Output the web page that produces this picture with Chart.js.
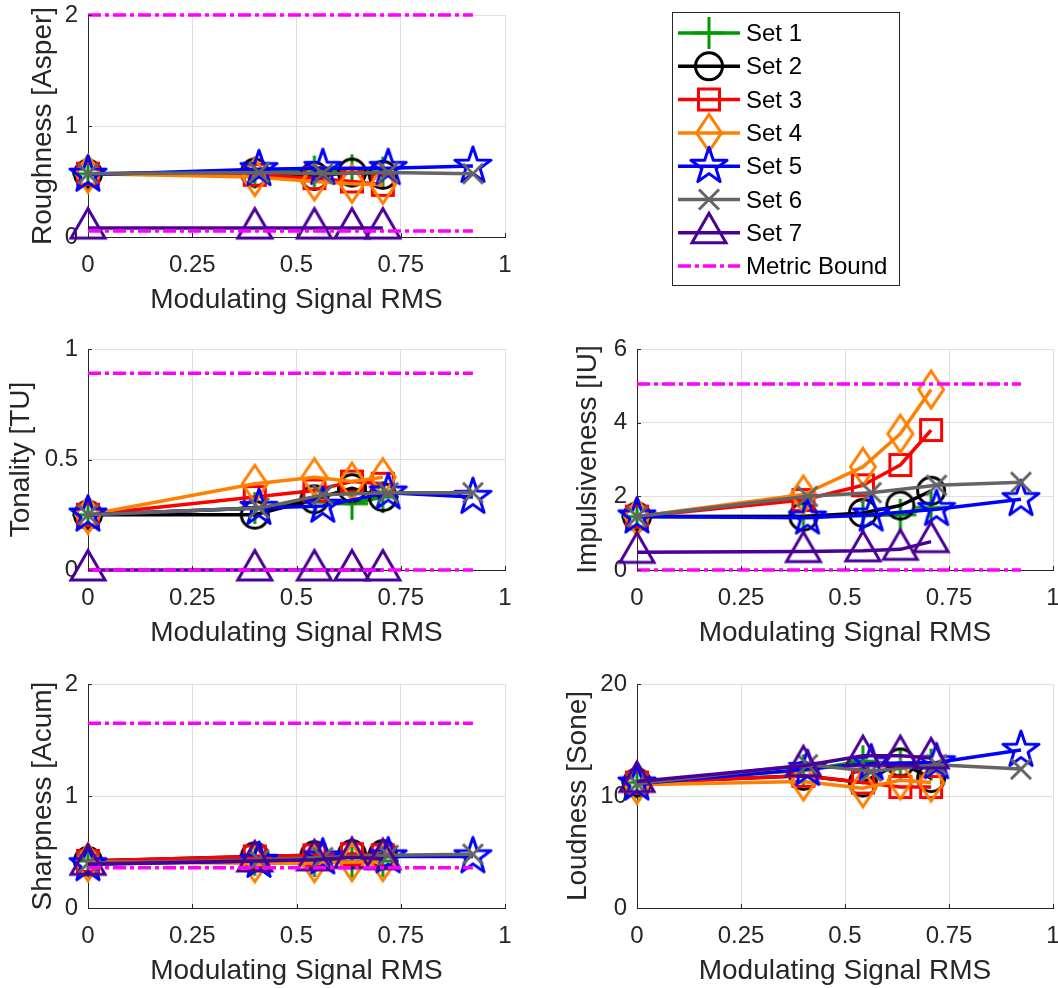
<!DOCTYPE html>
<html>
<head>
<meta charset="utf-8">
<title>Psychoacoustic metrics vs modulating signal RMS</title>
<style>
  html, body { margin: 0; padding: 0; background: #fff; }
  body { width: 1058px; height: 988px; position: relative; overflow: hidden; font-family: 'Liberation Sans', Arial, sans-serif; }
  .panel { position: absolute; }
  #legend { position: absolute; left: 672px; top: 12px; width: 228px; height: 274px; border: 1px solid #262626; box-sizing: border-box; background: #fff; }
  #legend canvas { position: absolute; left: -1px; top: -1px; }
  .entry { position: absolute; left: 73px; font-size: 24px; line-height: 28px; color: #000; white-space: nowrap; }
</style>
<script src="https://cdn.jsdelivr.net/npm/chart.js@4.4.0/dist/chart.umd.min.js"></script>
</head>
<body>
<div class="panel" style="left:0;top:0;width:520px;height:317px"><canvas id="roughness"></canvas></div>
<div class="panel" style="left:0;top:330px;width:520px;height:320px"><canvas id="tonality"></canvas></div>
<div class="panel" style="left:549px;top:330px;width:509px;height:320px"><canvas id="impulsiveness"></canvas></div>
<div class="panel" style="left:0;top:665px;width:520px;height:323px"><canvas id="sharpness"></canvas></div>
<div class="panel" style="left:549px;top:665px;width:509px;height:323px"><canvas id="loudness"></canvas></div>
<div id="legend"><canvas id="legendIcons" width="228" height="274"></canvas></div>
<script>
// Modulating signal RMS for each test set (sets 5 and 6 were run at slightly different levels)
const rmsA = [0, 0.40, 0.543, 0.633, 0.707];
const rmsB = [0, 0.41, 0.563, 0.72, 0.923];
const boundX = [0, 0.923];

const setNames = ['Set 1', 'Set 2', 'Set 3', 'Set 4', 'Set 5', 'Set 6', 'Set 7'];
const setX = [rmsA, rmsA, rmsA, rmsA, rmsB, rmsB, rmsA];
const setColors = ['#009a00', '#000000', '#ff0000', '#ff8000', '#0000ff', '#646464', '#4b0096'];
const setMarkers = ['plus', 'circle', 'square', 'diamond', 'pentagram', 'x', 'triangle'];
const boundColor = '#ff00ff';

const xTicks = [0, 0.25, 0.5, 0.75, 1];

// Roughness [Asper], one row per set
const roughness = [
  [0.57, 0.58, 0.59, 0.60, 0.58],
  [0.57, 0.58, 0.55, 0.58, 0.56],
  [0.57, 0.56, 0.53, 0.50, 0.47],
  [0.57, 0.54, 0.50, 0.48, 0.47],
  [0.56, 0.61, 0.62, 0.62, 0.64],
  [0.57, 0.58, 0.57, 0.58, 0.57],
  [0.08, 0.08, 0.08, 0.08, 0.08]
];
const roughnessBound = [0.054, 2.0];
const roughnessTicks = [0, 1, 2];

// Tonality [TU]
const tonality = [
  [0.25, 0.28, 0.31, 0.30, 0.33],
  [0.25, 0.25, 0.32, 0.37, 0.33],
  [0.25, 0.33, 0.36, 0.40, 0.39],
  [0.25, 0.39, 0.42, 0.40, 0.42],
  [0.25, 0.28, 0.29, 0.35, 0.33],
  [0.25, 0.28, 0.34, 0.35, 0.35],
  [0, 0, 0, 0, 0]
];
const tonalityBound = [0, 0.89];
const tonalityTicks = [0, 0.5, 1];

// Impulsiveness [IU]
const impulsiveness = [
  [1.45, 1.45, 1.48, 1.50, 1.70],
  [1.45, 1.45, 1.55, 1.75, 2.15],
  [1.45, 1.90, 2.30, 2.85, 3.80],
  [1.45, 2.05, 2.80, 3.70, 4.90],
  [1.45, 1.42, 1.50, 1.65, 1.92],
  [1.45, 2.00, 2.10, 2.30, 2.38],
  [0.48, 0.50, 0.52, 0.56, 0.77]
];
const impulsivenessBound = [0, 5.05];
const impulsivenessTicks = [0, 2, 4, 6];

// Sharpness [Acum]
const sharpness = [
  [0.42, 0.43, 0.42, 0.41, 0.42],
  [0.42, 0.46, 0.47, 0.48, 0.48],
  [0.42, 0.46, 0.47, 0.48, 0.47],
  [0.41, 0.40, 0.40, 0.41, 0.41],
  [0.39, 0.42, 0.45, 0.46, 0.46],
  [0.40, 0.43, 0.45, 0.47, 0.48],
  [0.39, 0.42, 0.43, 0.45, 0.44]
];
const sharpnessBound = [0.36, 1.65];
const sharpnessTicks = [0, 1, 2];

// Loudness [Sone]
const loudness = [
  [11.2, 12.3, 13.1, 12.7, 12.8],
  [11.2, 11.8, 11.2, 13.0, 11.6],
  [11.2, 11.8, 11.2, 10.8, 10.8],
  [11.0, 11.3, 10.7, 11.4, 11.2],
  [11.1, 12.4, 12.9, 13.0, 14.1],
  [11.1, 12.8, 12.2, 12.8, 12.4],
  [11.3, 12.7, 13.6, 13.6, 13.4]
];
const loudnessTicks = [0, 10, 20];

const AXIS_COLOR = '#262626';
const LW = 3;        // marker outline width
const LINE_W = 3.5;  // series line width
Chart.defaults.font.family = "'Liberation Sans', Arial, sans-serif";
Chart.defaults.color = AXIS_COLOR;

// Marker outlines, drawn unfilled like the plotting defaults
function traceMarker(ctx, shape, x, y) {
  ctx.beginPath();
  switch (shape) {
    case 'plus':
      ctx.moveTo(x - 16, y); ctx.lineTo(x + 16, y);
      ctx.moveTo(x, y - 16); ctx.lineTo(x, y + 16);
      break;
    case 'circle':
      ctx.arc(x, y, 13.5, 0, Math.PI * 2);
      break;
    case 'square':
      ctx.rect(x - 10.5, y - 10.5, 21, 21);
      break;
    case 'diamond':
      ctx.moveTo(x, y - 18.5); ctx.lineTo(x + 12.5, y);
      ctx.lineTo(x, y + 18.5); ctx.lineTo(x - 12.5, y);
      ctx.closePath();
      break;
    case 'pentagram':
      for (let k = 0; k < 10; k++) {
        const r = k % 2 ? 7.4 : 19;
        const a = -Math.PI / 2 + k * Math.PI / 5;
        const px = x + r * Math.cos(a), py = y + r * Math.sin(a);
        if (k === 0) ctx.moveTo(px, py); else ctx.lineTo(px, py);
      }
      ctx.closePath();
      break;
    case 'x':
      ctx.moveTo(x - 10, y - 10); ctx.lineTo(x + 10, y + 10);
      ctx.moveTo(x + 10, y - 10); ctx.lineTo(x - 10, y + 10);
      break;
    case 'triangle':
      ctx.moveTo(x, y - 19.5); ctx.lineTo(x + 17, y + 10);
      ctx.lineTo(x - 17, y + 10);
      ctx.closePath();
      break;
  }
}

function drawMarker(ctx, shape, x, y, color) {
  ctx.save();
  ctx.strokeStyle = color;
  ctx.lineWidth = LW;
  ctx.lineJoin = shape === 'pentagram' ? 'round' : 'miter';
  ctx.lineCap = 'butt';
  traceMarker(ctx, shape, x, y);
  ctx.stroke();
  ctx.restore();
}

function markerImage(shape, color) {
  const c = document.createElement('canvas');
  c.width = 48;
  c.height = 48;
  drawMarker(c.getContext('2d'), shape, 24, 24, color);
  return c;
}

const markerImages = setMarkers.map((m, i) => markerImage(m, setColors[i]));

// Small inward tick marks on the left and bottom axes
const innerTicks = {
  id: 'innerTicks',
  afterDraw(chart) {
    const {ctx, chartArea: a, scales: {x, y}} = chart;
    ctx.save();
    ctx.strokeStyle = AXIS_COLOR;
    ctx.lineWidth = 1;
    ctx.beginPath();
    x.ticks.forEach(t => {
      const px = Math.round(x.getPixelForValue(t.value)) + 0.5;
      ctx.moveTo(px, a.bottom); ctx.lineTo(px, a.bottom - 4);
    });
    y.ticks.forEach(t => {
      const py = Math.round(y.getPixelForValue(t.value)) + 0.5;
      ctx.moveTo(a.left, py); ctx.lineTo(a.left + 4, py);
    });
    ctx.stroke();
    ctx.restore();
  }
};

function buildDatasets(values, bound) {
  const sets = setNames.map((name, i) => ({
    label: name,
    data: setX[i].map((x, j) => ({x, y: values[i][j]})),
    borderColor: setColors[i],
    backgroundColor: setColors[i],
    borderWidth: LINE_W,
    borderJoinStyle: 'round',
    tension: 0,
    pointStyle: markerImages[i],
    pointRadius: 20,
    clip: false,
    order: 8 - i
  }));
  if (bound) {
    bound.forEach(level => {
      sets.push({
        label: 'Metric Bound',
        data: boundX.map(x => ({x, y: level})),
        borderColor: boundColor,
        borderWidth: LINE_W,
        borderDash: [13, 4, 4, 4],
        pointRadius: 0,
        clip: false,
        order: 0
      });
    });
  }
  return sets;
}

function makePanel(id, yLabel, yTicks, values, bound, titlePad, padTop, padRight) {
  const yMin = yTicks[0], yMax = yTicks[yTicks.length - 1];
  return new Chart(document.getElementById(id), {
    type: 'line',
    data: {datasets: buildDatasets(values, bound)},
    options: {
      responsive: true,
      maintainAspectRatio: false,
      animation: false,
      events: [],
      layout: {autoPadding: false, padding: {top: padTop, right: padRight, left: 0, bottom: 0}},
      plugins: {legend: {display: false}, tooltip: {enabled: false}},
      scales: {
        x: {
          type: 'linear',
          min: 0,
          max: 1,
          afterBuildTicks: s => { s.ticks = xTicks.map(v => ({value: v})); },
          afterFit: s => { s.height = 80; s.paddingLeft = 0; s.paddingRight = 0; },
          ticks: {
            autoSkip: false,
            maxRotation: 0,
            padding: 14,
            color: AXIS_COLOR,
            font: {size: 24},
            callback: v => String(v)
          },
          grid: {color: '#dfdfdf', lineWidth: 1, drawTicks: false},
          border: {color: AXIS_COLOR, width: 1},
          title: {
            display: true,
            text: 'Modulating Signal RMS',
            color: AXIS_COLOR,
            font: {size: 28},
            padding: {top: 0, bottom: 0}
          }
        },
        y: {
          type: 'linear',
          min: yMin,
          max: yMax,
          afterBuildTicks: s => { s.ticks = yTicks.map(v => ({value: v})); },
          afterFit: s => { s.width = 88; s.paddingTop = 0; s.paddingBottom = 0; },
          ticks: {
            padding: 10,
            color: AXIS_COLOR,
            font: {size: 24},
            callback: v => String(v)
          },
          grid: {color: '#dfdfdf', lineWidth: 1, drawTicks: false},
          border: {color: AXIS_COLOR, width: 1},
          title: {
            display: true,
            text: yLabel,
            color: AXIS_COLOR,
            font: {size: 28},
            padding: {top: titlePad, bottom: 0}
          }
        }
      }
    },
    plugins: [innerTicks]
  });
}

makePanel('roughness', 'Roughness [Asper]', roughnessTicks, roughness, roughnessBound, 26, 15, 15);
makePanel('tonality', 'Tonality [TU]', tonalityTicks, tonality, tonalityBound, 4, 19, 15);
makePanel('impulsiveness', 'Impulsiveness [IU]', impulsivenessTicks, impulsiveness, impulsivenessBound, 22, 19, 5);
makePanel('sharpness', 'Sharpness [Acum]', sharpnessTicks, sharpness, sharpnessBound, 26, 19, 15);
makePanel('loudness', 'Loudness [Sone]', loudnessTicks, loudness, null, 12, 19, 5);

// Legend: line sample with marker, then the label as text
(function buildLegend() {
  const legend = document.getElementById('legend');
  const ctx = document.getElementById('legendIcons').getContext('2d');
  const entries = setNames.map((name, i) => ({name, color: setColors[i], marker: setMarkers[i]}));
  entries.push({name: 'Metric Bound', color: boundColor, marker: null});
  entries.forEach((e, i) => {
    const cy = 21 + i * 33.3;
    ctx.save();
    ctx.strokeStyle = e.color;
    ctx.lineWidth = LINE_W;
    if (!e.marker) ctx.setLineDash([13, 4, 4, 4]);
    ctx.beginPath();
    ctx.moveTo(6, cy);
    ctx.lineTo(68, cy);
    ctx.stroke();
    ctx.restore();
    if (e.marker) drawMarker(ctx, e.marker, 37, cy, e.color);
    const label = document.createElement('div');
    label.className = 'entry';
    label.style.top = (cy - 15) + 'px';
    label.textContent = e.name;
    legend.appendChild(label);
  });
})();
</script>
</body>
</html>
